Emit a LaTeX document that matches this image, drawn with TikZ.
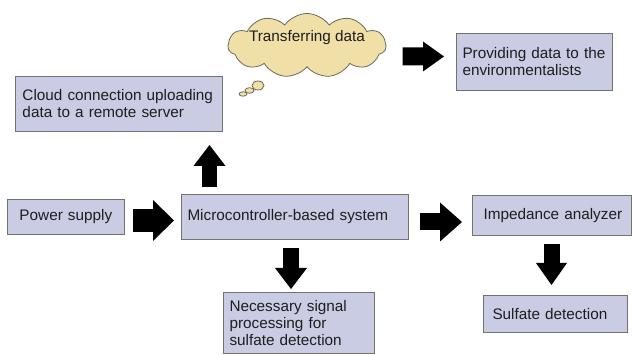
\documentclass[tikz,border=0pt]{standalone}
\usepackage{fontspec}
\setmainfont{Liberation Sans}
\usetikzlibrary{arrows.meta,shapes.symbols}
\definecolor{boxfill}{HTML}{CACCE4}
\definecolor{boxline}{HTML}{727272}
\definecolor{cloudfill}{HTML}{F1DFA8}
\definecolor{cloudline}{HTML}{6A6A5C}
\definecolor{txt}{HTML}{1E1E1E}
\tikzset{
  box/.style={draw=boxline, fill=boxfill, line width=1pt, anchor=north west,
    align=left, inner ysep=0pt, text=txt,
    font=\fontsize{15.3}{17}\selectfont},
  barrow/.style n args={3}{draw=black, line width=#1,
    -{Triangle[width=#2,length=#3,line width=0pt]}},
  bubble/.style={draw=cloudline, fill=cloudfill, line width=0.8pt}
}
\begin{document}
\begin{tikzpicture}[x=1pt,y=1pt]
\useasboundingbox (0,0) rectangle (633,355);
\fill[white] (0,0) rectangle (633,355);
% boxes
\node[box, inner xsep=7pt, text width=193pt, minimum height=55pt] (cc) at (15,279) {Cloud connection uploading\\data to a remote server};
\node[box, inner xsep=6pt, text width=144pt, minimum height=57pt] (pd) at (456,322) {Providing data to the\\environmentalists};
\node[box, inner xsep=12pt, text width=93pt, minimum height=35pt] (ps) at (7,156) {\mbox{Power supply}};
\node[box, inner xsep=6pt, text width=215pt, minimum height=45pt] (mc) at (181,161) {\mbox{Microcontroller-based system}};
\node[box, inner xsep=11pt, text width=137pt, minimum height=40pt] (imp) at (472,160) {\mbox{Impedance analyzer}};
\node[box, inner xsep=6pt, text width=139pt, minimum height=61pt] (nec) at (223,63) {Necessary signal\\processing for\\sulfate detection};
\node[box, inner xsep=9pt, text width=126pt, minimum height=37pt] (sd) at (483,60) {\mbox{Sulfate detection}};
% thought cloud
\node[cloud, cloud puffs=11, cloud puff arc=110, aspect=2.5, draw=cloudline, fill=cloudfill,
  line width=0.8pt, inner sep=0pt, minimum width=158pt, minimum height=64pt, text=txt,
  font=\fontsize{15.3}{17}\selectfont] (cl) at (307,309.5)
  {\makebox[0pt]{\raisebox{4pt}[0pt][0pt]{Transferring data}}};
\draw[bubble] (258,269.5) ellipse (6pt and 4.5pt);
\draw[bubble] (249.5,264.5) ellipse (4.5pt and 2.8pt);
\draw[bubble] (243,261) ellipse (4pt and 2.2pt);
% block arrows
\draw[barrow={23pt}{41pt}{21pt}] ([xshift=8pt,yshift=-3.5pt]ps.east) -- ([xshift=-7pt,yshift=-3.5pt]mc.west);
\draw[barrow={17pt}{39pt}{22pt}] ([xshift=11pt,yshift=-5pt]mc.east) -- ([xshift=-10pt,yshift=-6.5pt]imp.west);
\draw[barrow={15pt}{32pt}{21pt}] ([xshift=28.5pt,yshift=7pt]mc.north west) -- ([xshift=194.5pt,yshift=-13pt]cc.south west);
\draw[barrow={16pt}{32pt}{21pt}] ([xshift=-4pt,yshift=-8pt]mc.south) -- ([xshift=-8pt,yshift=3pt]nec.north);
\draw[barrow={16pt}{31pt}{22pt}] ([xshift=-0.5pt,yshift=-8pt]imp.south) -- ([xshift=-4pt,yshift=10pt]sd.north);
\draw[barrow={18pt}{30pt}{21pt}] ([xshift=16pt,yshift=-11pt]cl.east) -- ([xshift=-12pt,yshift=5.5pt]pd.west);
\end{tikzpicture}
\end{document}
